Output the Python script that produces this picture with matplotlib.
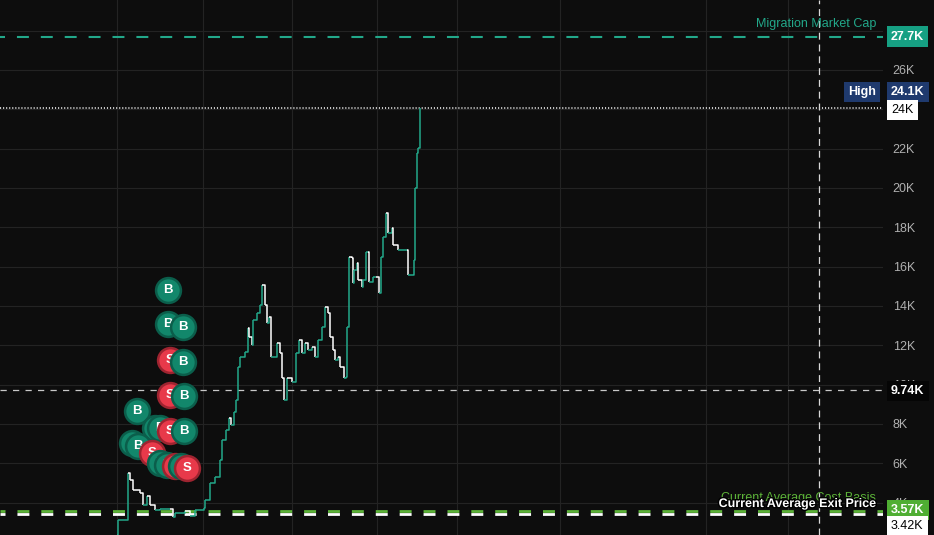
import matplotlib
matplotlib.use("Agg")
import matplotlib.pyplot as plt
import matplotlib.patheffects as pe
from matplotlib.collections import LineCollection

plt.rcParams['font.family'] = ['Liberation Sans', 'DejaVu Sans']
plt.rcParams['lines.scale_dashes'] = False

# price path (time in minutes from start, price in K)
times = [117, 118, 128, 130, 133, 140, 143, 147, 150, 155, 160, 170, 173, 175, 185, 190,
         195, 200, 204, 205, 210, 215, 220, 222, 226, 229, 231, 234, 236, 238, 240, 245,
         248, 249, 252, 253, 257, 260, 262, 265, 267, 269, 271, 277, 280, 282, 284, 287,
         292, 296, 299, 302, 305, 308, 312, 315, 318, 322, 325, 328, 330, 333, 335, 338,
         340, 344, 346, 347, 349, 352, 353, 354, 357, 358, 362, 363, 366, 368, 369, 373,
         376, 379, 381, 383, 386, 388, 392, 393, 398, 407, 408, 413, 414, 415, 417, 418, 420]
prices = [2.35, 3.11, 5.50, 5.14, 4.64, 4.48, 3.87, 4.33, 3.87, 3.62, 3.67, 3.67, 3.26, 3.47,
          3.57, 3.31, 3.62, 3.62, 3.72, 4.13, 4.99, 5.30, 6.16, 7.18, 7.69, 8.30, 7.94, 8.60,
          9.21, 10.89, 11.40, 11.65, 12.88, 12.42, 12.01, 13.28, 13.64, 14.05, 15.07, 14.05,
          13.13, 13.44, 11.40, 12.11, 11.60, 10.33, 9.21, 10.33, 10.13, 11.60, 12.27, 11.60,
          12.11, 11.76, 11.91, 11.40, 12.27, 12.93, 13.94, 13.64, 12.42, 11.76, 11.25, 11.40,
          10.89, 10.33, 10.38, 12.93, 16.49, 16.44, 15.17, 15.83, 16.19, 15.32, 14.96, 15.32,
          16.74, 16.74, 15.22, 15.47, 15.47, 14.66, 16.49, 17.50, 18.73, 17.71, 17.96, 17.10,
          16.84, 16.84, 15.57, 15.57, 16.33, 20.00, 21.78, 22.03, 24.07]

# trades (draw order, back to front)
trade_times = [168, 168, 183, 170, 183, 170, 184, 137, 155, 160, 170, 184, 132, 138, 152,
               160, 167, 175, 181, 187]
trade_prices = [14.81, 13.08, 12.93, 11.25, 11.15, 9.47, 9.42, 8.65, 7.79, 7.79, 7.64, 7.64,
                7.03, 6.87, 6.52, 6.01, 5.91, 5.86, 5.86, 5.75]
trade_sides = ['B', 'B', 'B', 'S', 'B', 'S', 'B', 'B', 'B', 'B', 'S', 'B', 'B', 'B', 'S',
               'B', 'B', 'S', 'B', 'S']

migration_cap = 27.7
high_price = 24.07
current_price = 23.96
crosshair_price = 9.74
crosshair_time = 819
cost_basis = 3.57
exit_price = 3.42

grid_times = [117, 203, 292, 377, 457, 560, 706, 788]
y_ticks = list(range(4, 30, 2))

bg = '#0d0d0d'
teal = '#22a88a'
red = '#e8394a'
green = '#5cb338'

fig = plt.figure(figsize=(9.34, 5.35), dpi=100, facecolor=bg)
ax = fig.add_axes([0, 0, 883 / 934, 1])
ax.set_facecolor(bg)
ax.set_xlim(0, 883)
ax.set_ylim(2.35, 29.56)

ax.set_xticks(grid_times)
ax.set_yticks(y_ticks)
ax.grid(True, color='#232323', linewidth=0.8)
ax.tick_params(axis='x', length=0, labelbottom=False)
ax.yaxis.tick_right()
ax.tick_params(axis='y', length=0, pad=7, labelsize=9, labelcolor='#b0b0b0')
ax.set_yticklabels([f'{v}K' for v in y_ticks])
for s in ax.spines.values():
    s.set_visible(False)

# price line as up/down colored steps
segs, cols = [], []
for i in range(1, len(times)):
    p0, p1 = prices[i - 1], prices[i]
    c = teal if p1 >= p0 else 'white'
    segs.append([(times[i - 1], p0), (times[i], p0), (times[i], p1)])
    cols.append(c)
ax.add_collection(LineCollection(segs, colors=cols, linewidths=1.1, zorder=4))

# reference lines
ax.axhline(migration_cap, color=teal, lw=1.5, ls=(5, (8.6, 8.6)), zorder=3)
ax.axhline(high_price, color='white', lw=1.1, ls=(0, (0.8, 1.4)), zorder=3)
ax.axhline(crosshair_price, color='#c8c8c8', lw=0.9, ls=(0, (4.5, 4.5)), zorder=3)
ax.axvline(crosshair_time, color='#d8d8d8', lw=0.9, ls=(0, (5, 3.5)), zorder=3)
ax.axhline(cost_basis, color=green, lw=2, ls=(5, (8.6, 8.6)), zorder=3)
ax.axhline(exit_price, color='white', lw=2, ls=(5, (8.6, 8.6)), zorder=3)

ax.text(876, migration_cap + 0.35, 'Migration Market Cap', color=teal, fontsize=9,
        ha='right', va='bottom', zorder=5)
ax.text(876, cost_basis + 0.35, 'Current Average Cost Basis', color=green, fontsize=9,
        ha='right', va='bottom', zorder=5)
ax.text(876, exit_price + 0.2, 'Current Average Exit Price', color='white', fontsize=9,
        ha='right', va='bottom', zorder=6, fontweight='bold',
        path_effects=[pe.withStroke(linewidth=2, foreground='black')])

# trade markers
for i, (t, p, side) in enumerate(zip(trade_times, trade_prices, trade_sides)):
    fc = '#12876b' if side == 'B' else red
    ec = '#0b5e4b' if side == 'B' else '#9e2430'
    ax.scatter([t], [p], s=320, color=fc, edgecolors=ec, linewidths=1.8, zorder=10 + 2 * i)
    ax.text(t, p, side, color='white', fontsize=9.5, fontweight='bold', ha='center',
            va='center', zorder=11 + 2 * i)

# right axis labels
ty = ax.get_yaxis_transform()


def tag(y, label, fc, tc, x=1.009, ha='left', bold=True):
    ax.text(x, y, label, transform=ty, color=tc, fontsize=9, ha=ha, va='center',
            fontweight='bold' if bold else 'normal', clip_on=False, zorder=20,
            bbox=dict(boxstyle='square,pad=0.35', fc=fc, ec='none'))


tag(migration_cap, f'{migration_cap}K', '#16a083', 'white')
tag(24.88, f'{high_price:.1f}K', '#1f3a6e', 'white')
tag(24.88, 'High', '#1f3a6e', 'white', x=0.992, ha='right')
tag(current_price, f'{current_price:.0f}K', 'white', 'black', bold=False)
tag(crosshair_price - 0.07, f'{crosshair_price}K', '#050505', 'white')
tag(cost_basis + 0.05, f'{cost_basis}K', '#4fae33', 'white')
tag(exit_price - 0.62, f'{exit_price}K', 'white', 'black', bold=False)

fig.savefig('out.png', dpi=100, facecolor=bg)
